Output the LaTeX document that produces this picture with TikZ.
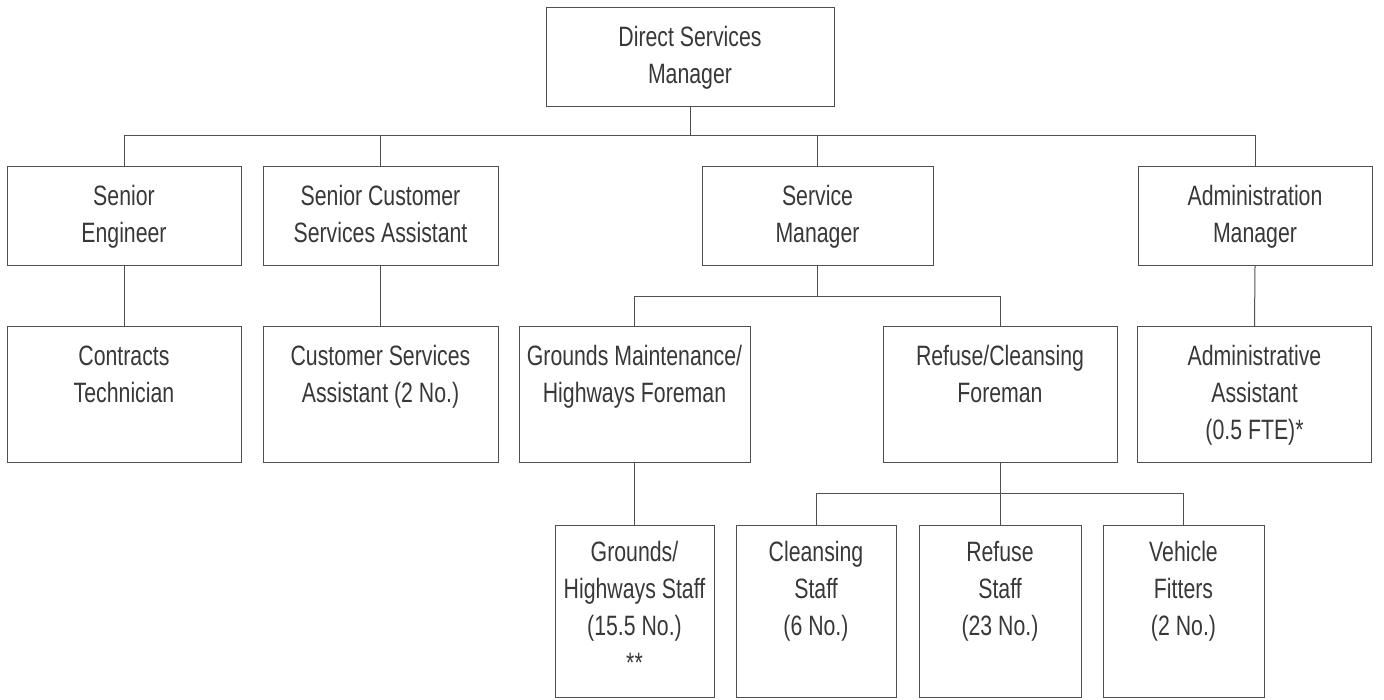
\documentclass[tikz,border=0pt]{standalone}
\usepackage{fontspec}
\setmainfont{Liberation Sans}[FakeStretch=0.76]
\usepackage{tikz}

\definecolor{linegray}{HTML}{505050}
\definecolor{textgray}{HTML}{383838}
\newcommand{\roletext}[4][39]{\parbox[c][#3pt][t]{#2pt}{\centering\rule{0pt}{#1pt}#4}}
\tikzset{
  post/.style={draw=linegray, line width=1pt, inner sep=0pt, anchor=north,
    text=textgray, font=\fontsize{28}{37}\selectfont},
  link/.style={draw=linegray, line width=1pt}
}

\begin{document}
\begin{tikzpicture}[x=1pt,y=-1pt]
  \useasboundingbox (0,0) rectangle (1384,699);
  % top
  \node[post] (dsm) at (690,7) {\roletext{288}{99}{Direct Services\\Manager}};
  % second row
  \node[post] (se) at (124,166) {\roletext{234}{99}{Senior\\Engineer}};
  \node[post] (scsa) at (380.5,166) {\roletext{235}{99}{Senior Customer\\Services Assistant}};
  \node[post] (sm) at (817.5,166) {\roletext{231}{99}{Service\\Manager}};
  \node[post] (am) at (1255,166) {\roletext{234}{99}{Administration\\Manager}};
  % third row
  \node[post] (ct) at (124,326) {\roletext{234}{136}{Contracts\\Technician}};
  \node[post] (csa) at (380.5,326) {\roletext{235}{136}{Customer Services\\Assistant (2 No.)}};
  \node[post] (gm) at (634.5,326) {\roletext{231}{136}{Grounds Maintenance/\\Highways Foreman}};
  \node[post] (rc) at (1000,326) {\roletext{234}{136}{Refuse/Cleansing\\Foreman}};
  \node[post] (aa) at (1254.5,326) {\roletext{234}{136}{Administrative\\Assistant\\(0.5 FTE)*}};
  % bottom row
  \node[post] (ghs) at (634.5,525) {\roletext[36]{159}{172}{Grounds/\\Highways Staff\\(15.5 No.)\\{}**}};
  \node[post] (cs) at (816,525) {\roletext[36]{160}{172}{Cleansing\\Staff\\(6 No.)}};
  \node[post] (rs) at (1000,525) {\roletext[36]{162}{172}{Refuse\\Staff\\(23 No.)}};
  \node[post] (vf) at (1183.5,525) {\roletext[36]{161}{172}{Vehicle\\Fitters\\(2 No.)}};

  \coordinate (bus1) at (0,135);
  \coordinate (bus2) at (0,296);
  \coordinate (bus3) at (0,493);

  \draw[link] (dsm.south) -- (dsm.south |- bus1);
  \draw[link] (se.north |- bus1) -- (am.north |- bus1);
  \foreach \n in {se,scsa,sm,am} \draw[link] (\n.north) -- (\n.north |- bus1);

  \draw[link] (se.south) -- (ct.north);
  \draw[link] (scsa.south) -- (csa.north);
  \draw[link] (am.south) -- (aa.north);

  \draw[link] (sm.south) -- (sm.south |- bus2);
  \draw[link] (gm.north |- bus2) -- (rc.north |- bus2);
  \foreach \n in {gm,rc} \draw[link] (\n.north) -- (\n.north |- bus2);

  \draw[link] (gm.south) -- (ghs.north);

  \draw[link] (rc.south) -- (rc.south |- bus3);
  \draw[link] (cs.north |- bus3) -- (vf.north |- bus3);
  \foreach \n in {cs,rs,vf} \draw[link] (\n.north) -- (\n.north |- bus3);
\end{tikzpicture}
\end{document}
